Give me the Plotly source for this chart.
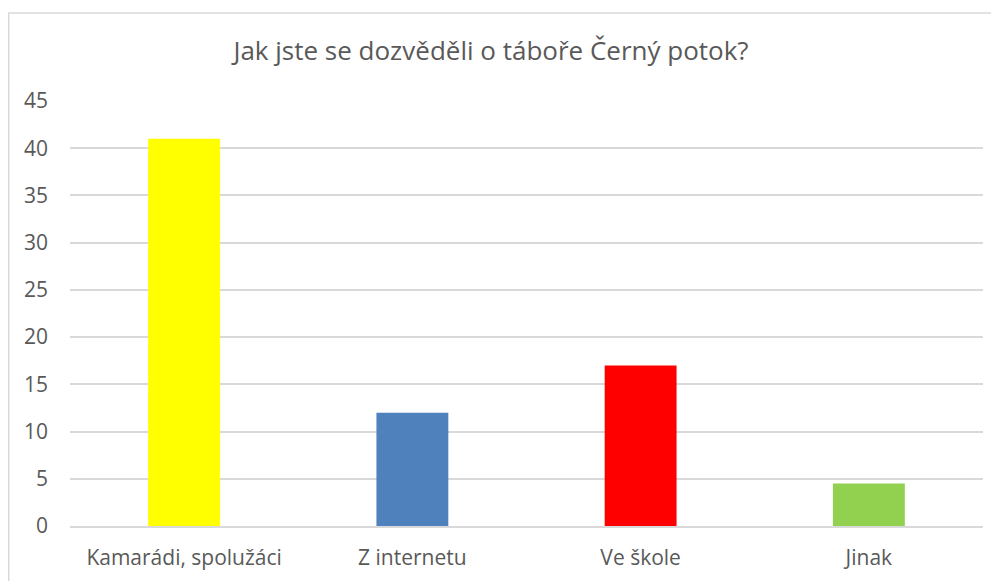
import plotly.graph_objects as go

categories = ["Kamarádi, spolužáci", "Z internetu", "Ve škole", "Jinak"]
values = [41, 12, 17, 4.5]
colors = ["#FFFF00", "#4F81BD", "#FF0000", "#92D050"]
title_text = "Jak jste se dozvěděli o táboře Černý potok?"

OFF = 8  # default body margin of the html page
W, H = 999 - OFF, 581 - OFF
L = 70 - OFF
T = 101 - OFF
B = H - (526 - OFF)
R = W - (983 - OFF)
pw = W - L - R
ph = H - T - B

fig = go.Figure(go.Bar(
    x=categories, y=values, marker=dict(color=colors, line=dict(width=0)),
    width=0.315, hoverinfo="x+y",
))

font = "'Open Sans', sans-serif"
fig.update_layout(
    width=W, height=H,
    margin=dict(l=L, r=R, t=T, b=B, autoexpand=False),
    paper_bgcolor="white", plot_bgcolor="white",
    font=dict(family=font, color="#595959", size=21),
    title=dict(text=title_text, x=(491 - OFF) / W, xref="container", xanchor="center",
               y=1 - (51 - OFF) / H, yref="container", yanchor="middle",
               font=dict(size=26, color="#595959", family=font)),
    showlegend=False,
)
fig.update_yaxes(range=[0, 45], dtick=5, showgrid=True, gridcolor="#D9D9D9",
                 gridwidth=1.5, zeroline=False, showline=False, ticks="",
                 ticklabelstandoff=21, tickfont=dict(size=21), automargin=False)
fig.update_xaxes(showline=True, linecolor="#D9D9D9", linewidth=1.5, ticks="",
                 tickfont=dict(size=21), ticklabelstandoff=12, automargin=False)

fig.add_shape(type="rect", xref="paper", yref="paper",
              x0=(0.75 - L) / pw, x1=(W + 20 - L) / pw,
              y0=-(H + 20) / ph, y1=(526 - 13) / ph,
              line=dict(color="#D9D9D9", width=1.5), fillcolor="rgba(0,0,0,0)",
              layer="below")

fig.write_html("out.html")
